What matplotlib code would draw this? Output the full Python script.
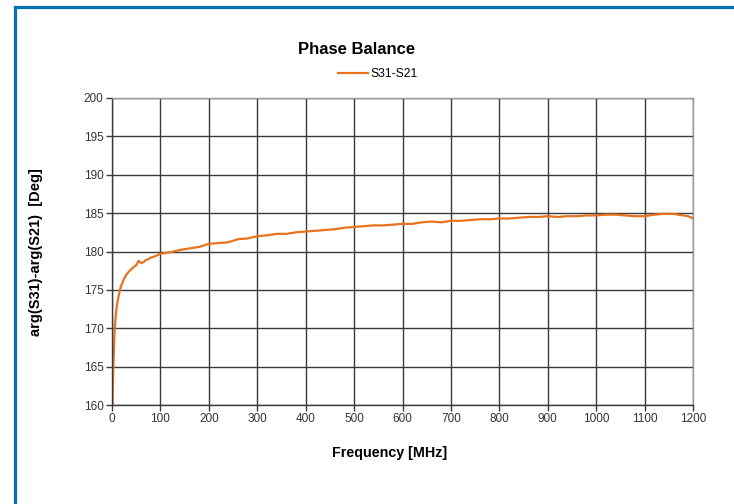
import matplotlib.pyplot as plt
from matplotlib.patches import Rectangle

# Données (fréquence en MHz, phase en degrés)
freq = [1, 2, 3, 4, 5, 6, 8, 10, 12, 15, 18, 22, 26, 30, 35, 40, 45, 50, 55, 60,
        65, 70, 75, 80, 90, 100, 120, 140, 160, 180, 200, 220, 240, 260, 280,
        300, 320, 340, 360, 380, 400, 420, 440, 460, 480, 500, 520, 540, 560,
        580, 600, 620, 640, 660, 680, 700, 720, 740, 760, 780, 800, 820, 840,
        860, 880, 900, 920, 940, 960, 980, 1000, 1020, 1040, 1060, 1080, 1100,
        1120, 1140, 1160, 1180, 1190, 1200]
phase = [159.5, 163.0, 165.5, 167.5, 169.0, 170.2, 171.8, 172.9, 173.7, 174.6,
         175.4, 176.0, 176.6, 177.0, 177.4, 177.7, 178.0, 178.2, 178.8, 178.5,
         178.6, 178.9, 179.0, 179.2, 179.4, 179.7, 179.9, 180.2, 180.4, 180.6,
         181.0, 181.1, 181.2, 181.6, 181.7, 182.0, 182.1, 182.3, 182.3, 182.5,
         182.6, 182.7, 182.8, 182.9, 183.1, 183.2, 183.3, 183.4, 183.4, 183.5,
         183.6, 183.6, 183.8, 183.9, 183.8, 184.0, 184.0, 184.1, 184.2, 184.2,
         184.3, 184.3, 184.4, 184.5, 184.5, 184.6, 184.5, 184.6, 184.6, 184.7,
         184.7, 184.8, 184.8, 184.7, 184.6, 184.6, 184.8, 184.9, 184.9, 184.7,
         184.6, 184.3]
x_ticks = list(range(0, 1201, 100))
y_ticks = list(range(160, 201, 5))

plt.rcParams['font.family'] = ['Liberation Sans', 'DejaVu Sans']

fig = plt.figure(figsize=(7.34, 5.04), dpi=100)
ax = fig.add_axes([112/734, 1 - 405/504, (693-112)/734, (405-98)/504])

# Cadre bleu (bords gauche et haut visibles)
fig.patches.append(Rectangle((14.5/734, -0.1), 1.2, 1 - 7.5/504 + 0.1,
                             transform=fig.transFigure, fill=False,
                             edgecolor='#0070B8', linewidth=2.3))

ax.plot(freq, phase, color='#E8731E', linewidth=1.6, label='S31-S21')

ax.set_xlim(0, 1200)
ax.set_ylim(160, 200)
ax.set_xticks(x_ticks)
ax.set_yticks(y_ticks)
ax.grid(True, color='#3a3a3a', linewidth=1.0)
ax.set_axisbelow(True)

for side in ['left', 'bottom']:
    ax.spines[side].set_color('#3a3a3a')
    ax.spines[side].set_linewidth(1.0)
for side in ['top', 'right']:
    ax.spines[side].set_color('#999999')
    ax.spines[side].set_linewidth(1.0)

ax.tick_params(axis='both', direction='out', length=4, width=1, color='#3a3a3a',
               labelsize=8.5, labelcolor='#333333', pad=2)

ax.set_xlabel('Frequency [MHz]', fontsize=10.3, fontweight='bold', va='center')
ax.set_ylabel('arg(S31)-arg(S21)  [Deg]', fontsize=10.5, fontweight='bold', va='center')
ax.xaxis.set_label_coords(0.478, -0.156)
ax.yaxis.set_label_coords(-0.13, 0.498)

fig.text(357/734, 1 - 50/504, 'Phase Balance', ha='center', va='center',
         fontsize=12, fontweight='bold')
fig.legend(loc='center', bbox_to_anchor=(378/734, 1 - 74/504), frameon=False,
           fontsize=8.7, handlelength=2.5, handletextpad=0.2)

fig.savefig('out.png', dpi=100)
